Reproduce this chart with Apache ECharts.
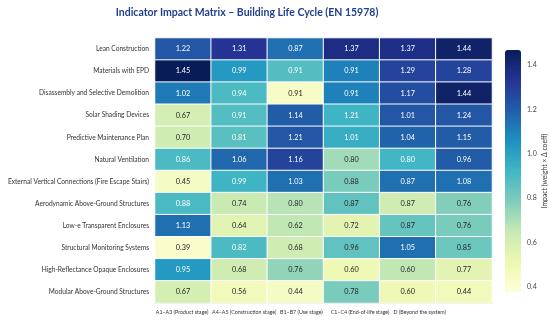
<!DOCTYPE html>
<html>
<head>
<meta charset="utf-8">
<script src="https://cdn.jsdelivr.net/npm/echarts@6/dist/echarts.min.js"></script>
<style>
html,body{margin:0;padding:0;background:#fff;}
#chart{width:550px;height:324px;}
</style>
</head>
<body>
<div id="chart"></div>
<script>
const titleText = 'Indicator Impact Matrix – Building Life Cycle (EN 15978)';
const stages = ['A1–A3 (Product stage)', 'A4–A5 (Construction stage)', 'B1–B7 (Use stage)', 'C1–C4 (End-of-life stage)', 'D (Beyond the system)', ''];
const indicators = [
  'Lean Construction',
  'Materials with EPD',
  'Disassembly and Selective Demolition',
  'Solar Shading Devices',
  'Predictive Maintenance Plan',
  'Natural Ventilation',
  'External Vertical Connections (Fire Escape Stairs)',
  'Aerodynamic Above-Ground Structures',
  'Low-e Transparent Enclosures',
  'Structural Monitoring Systems',
  'High-Reflectance Opaque Enclosures',
  'Modular Above-Ground Structures'
];
// printed values in each cell
const labelValues = [
  [1.22, 1.31, 0.87, 1.37, 1.37, 1.44],
  [1.45, 0.99, 0.91, 0.91, 1.29, 1.28],
  [1.02, 0.94, 0.91, 0.91, 1.17, 1.44],
  [0.67, 0.91, 1.14, 1.21, 1.01, 1.24],
  [0.70, 0.81, 1.21, 1.01, 1.04, 1.15],
  [0.86, 1.06, 1.16, 0.80, 0.80, 0.96],
  [0.45, 0.99, 1.03, 0.88, 0.87, 1.08],
  [0.88, 0.74, 0.80, 0.87, 0.87, 0.76],
  [1.13, 0.64, 0.62, 0.72, 0.87, 0.76],
  [0.39, 0.82, 0.68, 0.96, 1.05, 0.85],
  [0.95, 0.68, 0.76, 0.60, 0.60, 0.77],
  [0.67, 0.56, 0.44, 0.78, 0.60, 0.44]
];
// impact value driving each cell's colour
const colorValues = [
  [1.22, 1.33, 1.15, 1.37, 1.36, 1.43],
  [1.47, 1.03, 0.88, 1.10, 1.28, 1.28],
  [1.12, 0.90, 0.44, 1.10, 1.25, 1.43],
  [0.60, 0.88, 1.20, 0.93, 1.22, 1.22],
  [0.62, 0.87, 1.22, 0.96, 1.18, 1.20],
  [0.90, 1.17, 1.28, 0.72, 0.92, 1.20],
  [0.45, 0.93, 1.15, 0.80, 1.15, 1.15],
  [0.90, 0.64, 0.68, 0.85, 0.62, 0.78],
  [1.15, 0.56, 0.66, 0.55, 0.84, 0.80],
  [0.42, 0.90, 0.62, 0.85, 1.15, 0.83],
  [1.03, 0.62, 0.75, 0.50, 0.66, 0.55],
  [0.60, 0.48, 0.45, 0.80, 0.50, 0.48]
];
const colorbarTicks = [0.4, 0.6, 0.8, 1.0, 1.2, 1.4];
const colorMin = 0.377;
const colorMax = 1.467;

const FONT = 'Lato';
const data = [];
indicators.forEach((name, r) => {
  stages.forEach((s, c) => {
    const cv = colorValues[r][c];
    data.push({
      value: [c, r, cv, labelValues[r][c]],
      label: { color: cv > 0.86 ? '#ffffff' : '#262626' }
    });
  });
});

const chart = echarts.init(document.getElementById('chart'), null, { renderer: 'canvas' });
chart.setOption({
  animation: false,
  backgroundColor: '#ffffff',
  title: {
    text: titleText,
    left: 242, top: 2, textAlign: 'center',
    textStyle: { fontFamily: FONT, fontSize: 10.5, fontWeight: 'bold', color: '#23408e' }
  },
  grid: [
    { left: 155, top: 38, width: 337, height: 265, containLabel: false, outerBoundsMode: 'none' },
    { left: 505, top: 50, width: 16, height: 242, containLabel: false, outerBoundsMode: 'none' }
  ],
  xAxis: [
    {
      type: 'category', data: stages, gridIndex: 0, position: 'bottom',
      axisLine: { show: true, lineStyle: { color: '#bbbbbb', width: 1 } },
      axisTick: { show: false },
      splitLine: { show: false },
      axisLabel: {
        fontFamily: FONT, fontSize: 5.3, color: '#333', margin: 7, interval: 0,
        formatter: (v, i) => '{s' + i + '|' + v + '}',
        rich: {
          s0: { padding: [0, 2, 0, 0] },
          s1: { padding: [0, 0, 0, 10] },
          s2: { padding: [0, 0, 0, 12] },
          s3: { padding: [0, 0, 0, 17] },
          s4: { padding: [0, 0, 0, 24] },
          s5: {}
        }
      }
    },
    { type: 'value', gridIndex: 1, show: false, min: 0, max: 1 }
  ],
  yAxis: [
    {
      type: 'category', data: indicators, gridIndex: 0, inverse: true,
      axisLine: { show: false }, axisTick: { show: false }, splitLine: { show: false },
      axisLabel: { fontFamily: FONT, fontSize: 6.6, color: '#333', margin: 6, interval: 0 }
    },
    {
      type: 'value', gridIndex: 1, position: 'right', min: colorMin, max: colorMax,
      axisLine: { show: false },
      axisTick: { show: false, customValues: colorbarTicks },
      splitLine: { show: false },
      axisLabel: { fontFamily: FONT, fontSize: 7, color: '#444', margin: 6,
        customValues: colorbarTicks, formatter: v => v.toFixed(1) },
      name: 'Impact (weight × Δ coeff)', nameLocation: 'middle', nameRotate: 90, nameGap: 20,
      nameTextStyle: { fontFamily: FONT, fontSize: 6.8, color: '#333' }
    }
  ],
  visualMap: {
    type: 'continuous', dimension: 2, min: colorMin, max: colorMax,
    calculable: false, show: true, orient: 'vertical',
    left: 505, top: 50, itemWidth: 16, itemHeight: 242, padding: 0,
    text: null, showLabel: false, hoverLink: false,
    seriesIndex: 0,
    inRange: { color: ['#ffffd9', '#edf8b1', '#c7e9b4', '#7fcdbb', '#41b6c4', '#1d91c0', '#225ea8', '#253494', '#081d58'] }
  },
  series: [{
    type: 'heatmap', xAxisIndex: 0, yAxisIndex: 0,
    data: data,
    itemStyle: { borderColor: '#ffffff', borderWidth: 1 },
    label: {
      show: true, fontFamily: FONT, fontSize: 7.3,
      formatter: p => p.value[3].toFixed(2)
    },
    emphasis: { disabled: true }
  }]
});
</script>
</body>
</html>
